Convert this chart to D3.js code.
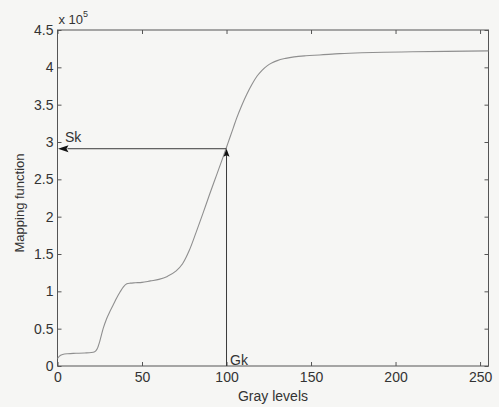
<!DOCTYPE html>
<html>
<head>
<meta charset="utf-8">
<script src="https://cdn.jsdelivr.net/npm/d3@7"></script>
<style>
  html, body { margin: 0; padding: 0; background: #f6f6f4; }
  svg { display: block; font-family: "Liberation Sans", Arial, Helvetica, sans-serif; }
</style>
</head>
<body>
<svg id="chart" width="499" height="407"></svg>
<script>
// Data (values in units of 1e5)
const grayLevels = [0,1,3,6,11,16,20,22,23.5,25,27,29,31,33,35,37,39,41,43,46,50,55,60,65,70,74,78,82,86,90,94,98,100,102,104,106,109,112,115,118,121,124,127,130,135,140,147,155,167,180,193,210,230,255];
const mapping    = [0.10,0.13,0.155,0.165,0.17,0.175,0.18,0.19,0.23,0.33,0.50,0.63,0.73,0.82,0.91,0.99,1.06,1.10,1.11,1.115,1.12,1.14,1.16,1.20,1.27,1.37,1.55,1.79,2.04,2.30,2.55,2.80,2.93,3.06,3.19,3.32,3.49,3.64,3.77,3.88,3.96,4.02,4.06,4.09,4.12,4.14,4.155,4.165,4.183,4.195,4.202,4.208,4.214,4.22];
const xTicks = [0,50,100,150,200,250];
const yTicks = [0,0.5,1,1.5,2,2.5,3,3.5,4,4.5];
const gk = 100;
const sk = 2.91;

const svg = d3.select("#chart");
const mLeft = 57.5, mRight = 488.5, mTop = 30, mBottom = 366;
const x = d3.scaleLinear().domain([0,255]).range([mLeft,mRight]);
const y = d3.scaleLinear().domain([0,4.5]).range([mBottom,mTop]);

const axisColor = "#555";
const textColor = "#333";

// Box
svg.append("rect").attr("x", mLeft).attr("y", mTop)
  .attr("width", mRight-mLeft).attr("height", mBottom-mTop)
  .attr("fill", "none").attr("stroke", axisColor).attr("stroke-width", 1);

function styleAxis(g, showText) {
  g.select(".domain").remove();
  g.selectAll(".tick line").attr("stroke", axisColor);
  g.selectAll(".tick text").attr("fill", textColor).style("font-size", "14px");
  if (!showText) g.selectAll(".tick text").remove();
}

svg.append("g").attr("transform", `translate(0,${mBottom})`)
  .call(d3.axisBottom(x).tickValues(xTicks).tickSizeInner(-4).tickSizeOuter(0).tickPadding(6))
  .call(g => styleAxis(g, true));
svg.append("g").attr("transform", `translate(0,${mTop})`)
  .call(d3.axisTop(x).tickValues(xTicks).tickSizeInner(-4).tickSizeOuter(0))
  .call(g => styleAxis(g, false));
svg.append("g").attr("transform", `translate(${mLeft},0)`)
  .call(d3.axisLeft(y).tickValues(yTicks).tickSizeInner(-4).tickSizeOuter(0).tickPadding(4)
    .tickFormat(d => d3.format("~g")(d)))
  .call(g => styleAxis(g, true));
svg.append("g").attr("transform", `translate(${mRight},0)`)
  .call(d3.axisRight(y).tickValues(yTicks).tickSizeInner(-4).tickSizeOuter(0))
  .call(g => styleAxis(g, false));

// Exponent label
const ex = svg.append("text").attr("x", mLeft + 1).attr("y", 24)
  .attr("fill", textColor).style("font-size", "13px");
ex.append("tspan").text("x 10");
ex.append("tspan").attr("dy", -7).style("font-size", "9px").text("5");

// Curve
const pts = grayLevels.map((g,i) => [g, mapping[i]]);
svg.append("path").datum(pts)
  .attr("fill", "none").attr("stroke", "#8f8f8f").attr("stroke-width", 1.1)
  .attr("d", d3.line().x(d => x(d[0])).y(d => y(d[1])).curve(d3.curveMonotoneX));

// Arrows
const arrowColor = "#3a3a3a";
svg.append("line").attr("x1", x(gk)).attr("y1", y(0)).attr("x2", x(gk)).attr("y2", y(sk) + 6)
  .attr("stroke", arrowColor).attr("stroke-width", 1);
svg.append("line").attr("x1", x(gk)).attr("y1", y(sk)).attr("x2", x(0) + 10).attr("y2", y(sk))
  .attr("stroke", arrowColor).attr("stroke-width", 1);
// Up arrow head
svg.append("path")
  .attr("d", `M${x(gk)},${y(sk)} L${x(gk)-3},${y(sk)+8} L${x(gk)},${y(sk)+6.5} L${x(gk)+3},${y(sk)+8} Z`)
  .attr("fill", "#111");
// Left arrow head
svg.append("path")
  .attr("d", `M${x(0)+0.5},${y(sk)} L${x(0)+11},${y(sk)-3.5} L${x(0)+9},${y(sk)} L${x(0)+11},${y(sk)+3.5} Z`)
  .attr("fill", "#111");

// Labels
svg.append("text").attr("x", 65).attr("y", 141.5).attr("fill", textColor)
  .style("font-size", "14px").text("Sk");
svg.append("text").attr("x", 230).attr("y", 364.5).attr("fill", textColor)
  .style("font-size", "14px").text("Gk");

svg.append("text").attr("x", (mLeft+mRight)/2).attr("y", 401)
  .attr("text-anchor", "middle").attr("fill", textColor).style("font-size", "14px")
  .text("Gray levels");
svg.append("text").attr("transform", `translate(24,${(mTop+mBottom)/2 + 5}) rotate(-90)`)
  .attr("text-anchor", "middle").attr("fill", textColor).style("font-size", "13px")
  .text("Mapping function");
</script>
</body>
</html>
